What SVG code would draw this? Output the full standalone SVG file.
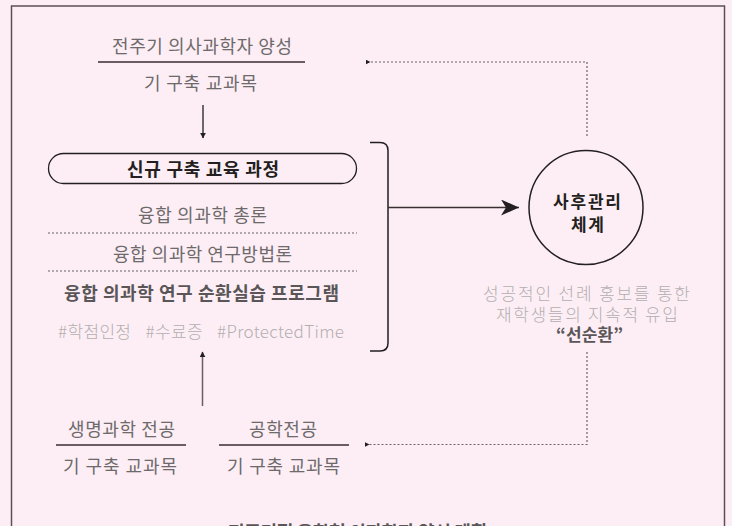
<svg xmlns="http://www.w3.org/2000/svg" width="732" height="526" viewBox="0 0 732 526">
<defs>
<style>
.t{font-family:"Noto Sans CJK KR","Noto Sans",sans-serif;text-anchor:middle;dominant-baseline:central;font-size:18px}
.s{font-size:17px}
.g{fill:#6d6a6b}
.b{fill:#231f20;font-weight:700}
.l{fill:#b3aeb0;font-weight:300}
.d{fill:#5a5657;font-weight:700}
.ln{stroke:#6a5c61;stroke-width:2;fill:none}
.dot{stroke:#6a6466;stroke-width:1.2;stroke-dasharray:2 2;fill:none}
.solid{stroke:#231f20;stroke-width:1.5;fill:none}
</style>
<marker id="ah" viewBox="0 0 10 10" refX="9" refY="5" markerWidth="6" markerHeight="6" orient="auto" markerUnits="userSpaceOnUse"><path d="M0,0 L10,5 L0,10 z" fill="#231f20"/></marker>
<marker id="big" viewBox="0 0 20 16" refX="18" refY="8" markerWidth="20" markerHeight="16" orient="auto" markerUnits="userSpaceOnUse"><path d="M0,0 L18,8 L0,16 L5,8 z" fill="#231f20"/></marker>
<marker id="sm" viewBox="0 0 10 10" refX="1" refY="5" markerWidth="5" markerHeight="5" orient="auto" markerUnits="userSpaceOnUse"><path d="M10,0 L0,5 L10,10 z" fill="#231f20"/></marker>
</defs>
<rect width="732" height="526" fill="#fdeef5"/>
<path d="M11.5,540 V6 H724.5 V540" fill="none" stroke="#5e4f55" stroke-width="1.5"/>

<g id="top-node">
<text class="t g" x="202" y="45" textLength="180">전주기 의사과학자 양성</text>
<line class="ln" x1="98" y1="62" x2="305" y2="62"/>
<text class="t g" x="200.5" y="82" textLength="113">기 구축 교과목</text>
</g>

<g id="curriculum">
<rect x="48.5" y="153.5" width="308" height="30" rx="15" fill="none" stroke="#231f20" stroke-width="1.3"/>
<text class="t b" x="203" y="168" textLength="152">신규 구축 교육 과정</text>
<text class="t g" x="202.5" y="214" textLength="129">융합 의과학 총론</text>
<line class="dot" x1="48" y1="233" x2="357" y2="233" stroke-dasharray="1.5 2.5"/>
<text class="t g" x="202.5" y="253" textLength="179">융합 의과학 연구방법론</text>
<line class="dot" x1="48" y1="271" x2="357" y2="271" stroke-dasharray="1.5 2.5"/>
<text class="t d" x="201.5" y="292" textLength="275">융합 의과학 연구 순환실습 프로그램</text>
<text class="t l s" x="201" y="330" xml:space="preserve" word-spacing="3" textLength="286">#학점인정  #수료증  #ProtectedTime</text>
<path class="solid" d="M370,142.5 H380 Q388,142.5 388,150.5 V343 Q388,351 380,351 H370"/>
</g>

<g id="aftercare">
<circle cx="586" cy="207.5" r="57" fill="none" stroke="#231f20" stroke-width="1.5"/>
<text class="t b s" x="587" y="200" textLength="68">사후관리</text>
<text class="t b s" x="587.5" y="223" textLength="33">체계</text>
<text class="t l s" x="586.5" y="292" textLength="207">성공적인 선례 홍보를 통한</text>
<text class="t l s" x="587" y="313" textLength="182">재학생들의 지속적 유입</text>
<text class="t d s" x="589.5" y="333" fill="#6d6a6b" textLength="67">“선순환”</text>
</g>

<g id="bio">
<text class="t g" x="121.5" y="428" textLength="107">생명과학 전공</text>
<line class="ln" x1="56" y1="445" x2="186" y2="445"/>
<text class="t g" x="120" y="465" textLength="114">기 구축 교과목</text>
</g>

<g id="eng">
<text class="t g" x="283" y="428" textLength="68">공학전공</text>
<line class="ln" x1="219" y1="445" x2="349" y2="445"/>
<text class="t g" x="283.5" y="465" textLength="113">기 구축 교과목</text>
</g>

<g id="title">
<text class="t d" x="357.5" y="531" textLength="259">전주기적 융합형 의과학자 양성 계획</text>
</g>

<g id="connectors">
<line x1="203" y1="105" x2="203" y2="138" stroke="#231f20" stroke-width="1.3" marker-end="url(#ah)"/>
<line x1="202.5" y1="406" x2="202.5" y2="352" stroke="#6a5c61" stroke-width="1.5" marker-end="url(#ah)"/>
<line x1="388" y1="207.5" x2="519" y2="207.5" stroke="#3a3032" stroke-width="1.5" marker-end="url(#big)"/>
<path class="dot" d="M587,136 V62 H370" marker-end="url(#sm)"/>
<path class="dot" d="M587,352 V444.5 H369" marker-end="url(#sm)"/>
</g>
</svg>
